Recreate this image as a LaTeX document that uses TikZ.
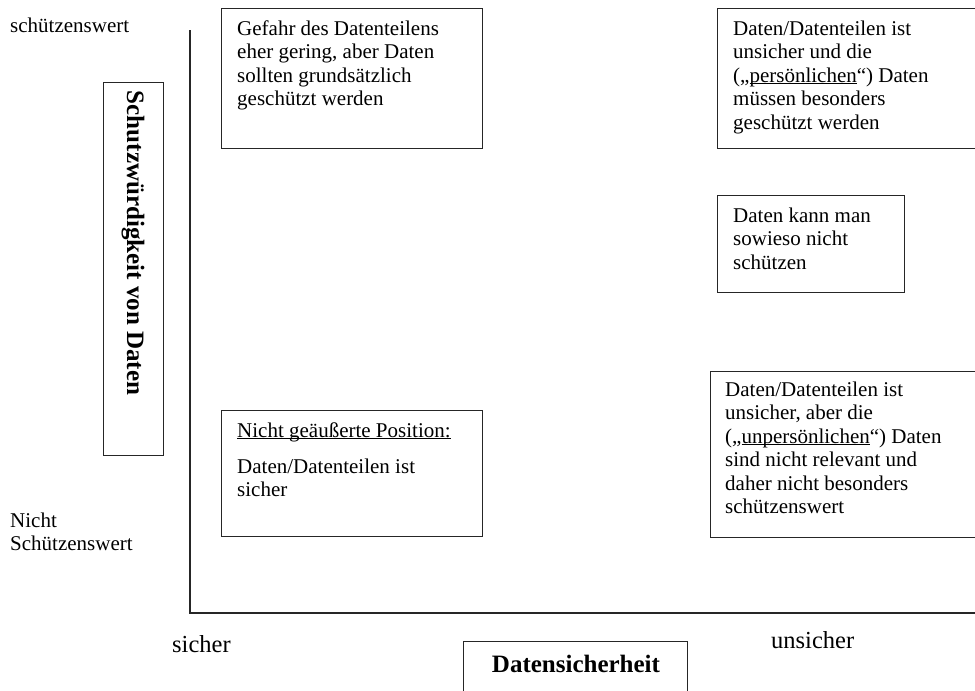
\documentclass[tikz,border=0pt]{standalone}
\usepackage{fontspec}
\setmainfont{Liberation Serif}
\newcommand{\baseul}[1]{\underline{\smash{#1}}}
\begin{document}
\begin{tikzpicture}[x=1pt,y=-1pt,
  boxst/.style={draw=black!85, line width=1.4pt, inner sep=0pt, anchor=north west},
  txt/.style={inner sep=0pt, anchor=base west, font=\fontsize{21}{23.5}\selectfont},
  axlbl/.style={inner sep=0pt, anchor=base west, font=\fontsize{24.5}{28}\selectfont},
  boldlbl/.style={inner sep=0pt, font=\fontsize{25}{28}\selectfont\bfseries},
  axisline/.style={draw=black!85, line width=1.6pt}]
\clip (0,0) rectangle (975,691);
\fill[white] (0,0) rectangle (975,691);
% axes
\coordinate (ytop) at (190,30);
\coordinate (orig) at (190,613);
\coordinate (xend) at (976,613);
\draw[axisline] (ytop) -- (orig) -- (xend);
% side labels
\node[txt] (hi) at (10,32) {schützenswert};
\node[txt] (lo) at (10,527) {\begin{tabular}[t]{@{}l@{}}Nicht\\Schützenswert\end{tabular}};
\node[axlbl] (sich) at (172,652) {sicher};
\node[axlbl] (unsich) at (771,648) {unsicher};
% axis title boxes
\node[boxst, minimum width=60pt, minimum height=373pt] (vbox) at (103,82) {};
\node[boldlbl, rotate=-90] (vlbl) at (133,243) {Schutzwürdigkeit von Daten};
\node[boxst, minimum width=224pt, minimum height=70pt] (hbox) at (463,641) {};
\node[boldlbl, anchor=base] (hlbl) at (576,672) {Datensicherheit};
% quadrant boxes
\node[boxst, minimum width=261pt, minimum height=140pt] (b1) at (221,8) {};
\node[txt] (t1) at (237,35) {\begin{tabular}[t]{@{}l@{}}Gefahr des Datenteilens\\eher gering, aber Daten\\sollten grundsätzlich\\geschützt werden\end{tabular}};
\node[boxst, minimum width=300pt, minimum height=140pt] (b2) at (717,8) {};
\node[txt] (t2) at (733,35) {\begin{tabular}[t]{@{}l@{}}Daten/Datenteilen ist\\unsicher und die\\(„\baseul{persönlichen}“) Daten\\müssen besonders\\geschützt werden\end{tabular}};
\node[boxst, minimum width=187pt, minimum height=97pt] (b3) at (717,195) {};
\node[txt] (t3) at (733,222) {\begin{tabular}[t]{@{}l@{}}Daten kann man\\sowieso nicht\\schützen\end{tabular}};
\node[boxst, minimum width=300pt, minimum height=166pt] (b4) at (710,371) {};
\node[txt] (t4) at (725,396) {\begin{tabular}[t]{@{}l@{}}Daten/Datenteilen ist\\unsicher, aber die\\(„\baseul{unpersönlichen}“) Daten\\sind nicht relevant und\\daher nicht besonders\\schützenswert\end{tabular}};
\node[boxst, minimum width=261pt, minimum height=126pt] (b5) at (221,410) {};
\node[txt] (t5) at (237,437) {\begin{tabular}[t]{@{}l@{}}\baseul{Nicht geäußerte Position:}\\[12.5pt]Daten/Datenteilen ist\\sicher\end{tabular}};
\end{tikzpicture}
\end{document}
